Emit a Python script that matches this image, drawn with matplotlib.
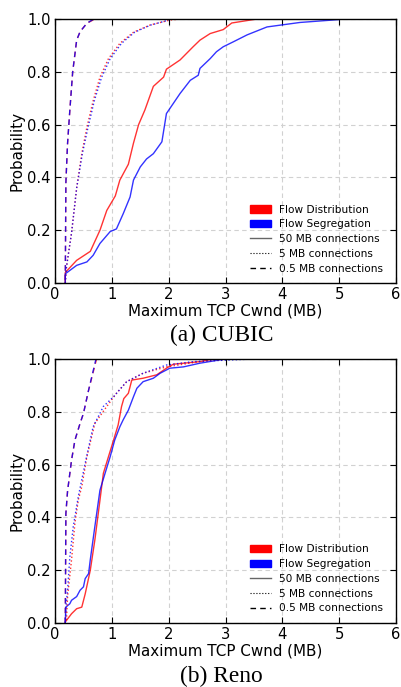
import matplotlib
matplotlib.use("Agg")
import matplotlib.pyplot as plt
from matplotlib.patches import Patch
from matplotlib.lines import Line2D

# CUBIC panel, CDF points (x in MB, p = probability)
cubic_dist_50_x = [0.18, 0.18, 0.38, 0.62, 0.79, 0.91, 1.06, 1.14, 1.29, 1.38, 1.47, 1.58, 1.73, 1.91, 1.96, 2.20, 2.43, 2.55, 2.73, 2.96, 3.11, 3.55]
cubic_dist_50_p = [0.0, 0.04, 0.086, 0.12, 0.20, 0.275, 0.33, 0.39, 0.45, 0.53, 0.60, 0.655, 0.745, 0.78, 0.81, 0.845, 0.895, 0.92, 0.945, 0.96, 0.985, 1.0]
cubic_seg_50_x = [0.18, 0.18, 0.38, 0.56, 0.67, 0.79, 0.97, 1.08, 1.20, 1.32, 1.38, 1.50, 1.61, 1.73, 1.88, 1.96, 2.08, 2.20, 2.38, 2.52, 2.55, 2.73, 2.84, 2.96, 3.14, 3.38, 3.73, 4.31, 5.0]
cubic_seg_50_p = [0.0, 0.035, 0.067, 0.08, 0.105, 0.15, 0.195, 0.205, 0.263, 0.326, 0.39, 0.44, 0.47, 0.49, 0.535, 0.642, 0.68, 0.718, 0.768, 0.787, 0.813, 0.85, 0.876, 0.895, 0.914, 0.94, 0.97, 0.987, 0.998]
cubic_dist_5_x = [0.18, 0.20, 0.29, 0.38, 0.47, 0.56, 0.67, 0.79, 0.94, 1.14, 1.38, 1.67, 2.02, 2.20]
cubic_dist_5_p = [0.0, 0.06, 0.19, 0.36, 0.49, 0.59, 0.69, 0.78, 0.85, 0.908, 0.95, 0.977, 0.996, 1.0]
cubic_seg_5_x = [0.18, 0.20, 0.29, 0.38, 0.48, 0.58, 0.69, 0.82, 0.97, 1.17, 1.40, 1.68, 2.0]
cubic_seg_5_p = [0.0, 0.06, 0.19, 0.36, 0.49, 0.59, 0.69, 0.78, 0.85, 0.908, 0.95, 0.977, 0.996]
cubic_dist_05_x = [0.18, 0.19, 0.22, 0.26, 0.31, 0.38, 0.44, 0.56, 0.70]
cubic_dist_05_p = [0.01, 0.38, 0.53, 0.655, 0.80, 0.92, 0.952, 0.984, 1.0]
cubic_seg_05_x = [0.18, 0.19, 0.22, 0.26, 0.31, 0.38, 0.44, 0.56, 0.68]
cubic_seg_05_p = [0.01, 0.38, 0.53, 0.655, 0.80, 0.92, 0.952, 0.984, 1.0]

# Reno panel
reno_dist_50_x = [0.18, 0.29, 0.38, 0.47, 0.53, 0.62, 0.70, 0.79, 0.85, 0.94, 1.03, 1.11, 1.17, 1.21, 1.29, 1.35, 1.55, 1.79, 1.96, 2.08, 2.55, 2.79]
reno_dist_50_p = [0.004, 0.035, 0.054, 0.06, 0.11, 0.20, 0.314, 0.465, 0.567, 0.63, 0.693, 0.75, 0.82, 0.85, 0.87, 0.92, 0.927, 0.94, 0.965, 0.98, 0.99, 1.0]
reno_seg_50_x = [0.18, 0.19, 0.26, 0.29, 0.38, 0.44, 0.50, 0.53, 0.59, 0.62, 0.70, 0.79, 0.88, 0.97, 1.05, 1.14, 1.20, 1.29, 1.38, 1.44, 1.55, 1.73, 1.85, 2.02, 2.26, 2.55, 3.0]
reno_seg_50_p = [0.0, 0.06, 0.073, 0.086, 0.10, 0.124, 0.137, 0.168, 0.187, 0.24, 0.365, 0.503, 0.567, 0.63, 0.693, 0.743, 0.77, 0.806, 0.857, 0.889, 0.914, 0.927, 0.946, 0.965, 0.97, 0.984, 1.0]
reno_dist_5_x = [0.20, 0.22, 0.29, 0.35, 0.41, 0.47, 0.56, 0.70, 0.91, 1.08, 1.26, 1.55, 1.96, 2.55, 3.1]
reno_dist_5_p = [0.01, 0.10, 0.24, 0.38, 0.467, 0.516, 0.63, 0.756, 0.82, 0.87, 0.914, 0.946, 0.97, 0.99, 1.0]
reno_seg_5_x = [0.18, 0.19, 0.22, 0.26, 0.32, 0.41, 0.53, 0.67, 0.85, 1.03, 1.26, 1.55, 1.96, 2.43, 3.5]
reno_seg_5_p = [0.0, 0.06, 0.124, 0.25, 0.365, 0.48, 0.605, 0.743, 0.82, 0.857, 0.914, 0.946, 0.977, 0.99, 1.0]
reno_dist_05_x = [0.18, 0.19, 0.22, 0.29, 0.35, 0.44, 0.50, 0.59, 0.73, 2.0]
reno_dist_05_p = [0.0, 0.415, 0.50, 0.617, 0.693, 0.756, 0.794, 0.882, 1.0, 1.0]
reno_seg_05_x = [0.18, 0.19, 0.22, 0.29, 0.35, 0.44, 0.50, 0.59, 0.72]
reno_seg_05_p = [0.0, 0.415, 0.50, 0.617, 0.693, 0.756, 0.794, 0.882, 1.0]

x_ticks = [0, 1, 2, 3, 4, 5, 6]
y_ticks = [0.0, 0.2, 0.4, 0.6, 0.8, 1.0]
legend_labels = ["Flow Distribution", "Flow Segregation", "50 MB connections", "5 MB connections", "0.5 MB connections"]
captions = ["(a) CUBIC", "(b) Reno"]

panels = [
    [(cubic_dist_50_x, cubic_dist_50_p, "r", "-"), (cubic_seg_50_x, cubic_seg_50_p, "b", "-"),
     (cubic_dist_5_x, cubic_dist_5_p, "r", ":"), (cubic_seg_5_x, cubic_seg_5_p, "b", ":"),
     (cubic_dist_05_x, cubic_dist_05_p, "r", "--"), (cubic_seg_05_x, cubic_seg_05_p, "b", "--")],
    [(reno_dist_50_x, reno_dist_50_p, "r", "-"), (reno_seg_50_x, reno_seg_50_p, "b", "-"),
     (reno_dist_5_x, reno_dist_5_p, "r", ":"), (reno_seg_5_x, reno_seg_5_p, "b", ":"),
     (reno_dist_05_x, reno_dist_05_p, "r", "--"), (reno_seg_05_x, reno_seg_05_p, "b", "--")],
]

fig = plt.figure(figsize=(4.02, 6.87), dpi=100)
ax_rects = [[0.137, 0.588, 0.848, 0.3843], [0.137, 0.0932, 0.848, 0.3843]]
# captions sit on a baseline just under each x label
caption_y = [0.503, 0.007]

for rect, lines, cap, cy in zip(ax_rects, panels, captions, caption_y):
    ax = fig.add_axes(rect)
    for xs, ps, col, ls in lines:
        if ls == "--":
            ls = (0, (4, 3))
        ax.plot(xs, ps, color=col, linestyle=ls, lw=1.0, alpha=0.8)
    ax.set_xlim(0, 6)
    ax.set_ylim(0, 1)
    ax.set_xticks(x_ticks)
    ax.set_yticks(y_ticks)
    ax.set_yticklabels([f"{v:.1f}" for v in y_ticks])
    ax.tick_params(direction="in", top=True, right=True, length=4, labelsize=10.6, pad=3)
    ax.grid(True, color="0.82", linestyle=(0, (4, 3)), lw=0.8)
    ax.set_xlabel("Maximum TCP Cwnd (MB)", fontsize=10.9, labelpad=1)
    ax.set_ylabel("Probability", fontsize=10.9, labelpad=2)
    for sp in ax.spines.values():
        sp.set_linewidth(1.0)
    handles = [Patch(color="r"), Patch(color="b"),
               Line2D([], [], color="k", alpha=0.6, lw=1.0, linestyle="-"),
               Line2D([], [], color="k", lw=0.8, linestyle=":"),
               Line2D([], [], color="k", lw=1.0, linestyle=(0, (4, 3)))]
    ax.legend(handles, legend_labels, loc="lower right", frameon=False, fontsize=7.6,
              handlelength=2.0, handletextpad=0.8, labelspacing=0.45,
              bbox_to_anchor=(0.99, 0.0))
    fig.text(0.551, cy, cap, ha="center", va="baseline", family="Liberation Serif", fontsize=16.8)

fig.savefig("out.png", dpi=100)
